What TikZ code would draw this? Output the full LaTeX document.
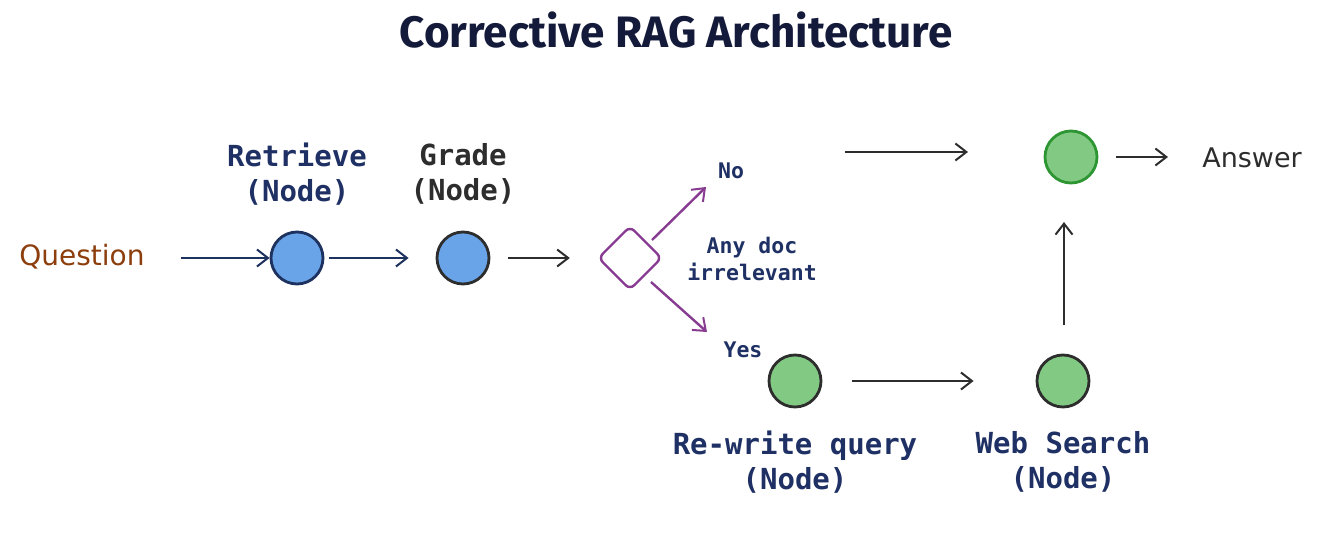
\documentclass[tikz,border=0pt]{standalone}
\usepackage{fontspec}
\setmainfont{Fira Sans}
\newfontfamily\monofont{DejaVu Sans Mono}
\newfontfamily\handfont{DejaVu Sans}
\usetikzlibrary{arrows.meta,shapes.geometric}
\definecolor{navy}{RGB}{30,48,100}
\definecolor{titlec}{RGB}{20,26,58}
\definecolor{brownc}{RGB}{140,62,12}
\definecolor{bluefill}{RGB}{106,164,232}
\definecolor{bluedraw}{RGB}{30,50,95}
\definecolor{greenfill}{RGB}{130,202,132}
\definecolor{greendraw}{RGB}{45,150,50}
\definecolor{darkg}{RGB}{45,45,45}
\definecolor{purp}{RGB}{135,60,145}
\tikzset{
  arr/.style={line width=2.8pt,-{Straight Barb[length=11pt,width=17pt,line width=2pt]}},
  bluecirc/.style={circle,minimum size=52pt,inner sep=0pt,fill=bluefill,draw=bluedraw,line width=2.8pt},
  greencirc/.style={circle,minimum size=52pt,inner sep=0pt,fill=greenfill,draw=darkg,line width=2.8pt},
  lbl/.style={font=\monofont\bfseries\fontsize{29}{35}\selectfont,text=navy,align=center},
  small/.style={font=\monofont\bfseries\fontsize{21.5}{27}\selectfont,text=navy,align=center},
}
\begin{document}
\begin{tikzpicture}[x=1pt,y=-1pt]
\useasboundingbox[fill=white] (0,0) rectangle (1326,543);
\node[font=\bfseries\fontsize{44}{52}\selectfont,text=titlec] (title) at (676,30) {Corrective RAG Architecture};
\node[font=\handfont\fontsize{28}{34}\selectfont,text=brownc] (q) at (82,257) {Question};
\node[bluecirc] (ret) at (297,258) {};
\node[bluecirc,draw=darkg] (grade) at (463,258) {};
\node[lbl] (retl) at (297,174) {Retrieve\\(Node)};
\node[lbl,text=darkg] (gradel) at (463,174) {Grade\\(Node)};
\node[diamond,draw=purp,line width=2.4pt,minimum width=64pt,minimum height=64pt,inner sep=0pt,rounded corners=6pt] (dia) at (630,258) {};
\node[small] (no) at (731,171) {No};
\node[small] (yes) at (743,350) {Yes};
\node[small] (any) at (752,259) {Any doc\\irrelevant};
\node[greencirc,draw=greendraw] (ans) at (1071,157) {};
\node[font=\handfont\fontsize{27}{32}\selectfont,text=darkg] (answer) at (1252,158) {Answer};
\node[greencirc] (rw) at (795,381) {};
\node[greencirc] (ws) at (1063,381) {};
\node[lbl] (rwl) at (795,462) {Re-write query\\(Node)};
\node[lbl] (wsl) at (1063,462) {Web Search\\(Node)};
\coordinate (qs) at (181,258);
\coordinate (nos) at (652,240);
\coordinate (noe) at (706,187);
\coordinate (yss) at (651,282);
\coordinate (yse) at (707,332);
\coordinate (ts) at (845,152);
\coordinate (te) at (968,152);
\coordinate (ae) at (1168,157);
\coordinate (vs) at (1064,325);
\coordinate (ve) at (1064,222);
\draw[arr,draw=bluedraw] (qs) -- (ret.west);
\draw[arr,draw=bluedraw] ([xshift=5pt]ret.east) -- ([xshift=-27pt]grade.west);
\draw[arr,draw=darkg] ([xshift=18pt]grade.east) -- ([xshift=-27pt]dia.west);
\draw[arr,draw=purp,line width=2.4pt] (nos) -- (noe);
\draw[arr,draw=purp,line width=2.4pt] (yss) -- (yse);
\draw[arr,draw=darkg] (ts) -- (te);
\draw[arr,draw=darkg] ([xshift=18pt]ans.east) -- (ae);
\draw[arr,draw=darkg] ([xshift=30pt]rw.east) -- ([xshift=-62pt]ws.west);
\draw[arr,draw=darkg] (vs) -- (ve);
\end{tikzpicture}
\end{document}
